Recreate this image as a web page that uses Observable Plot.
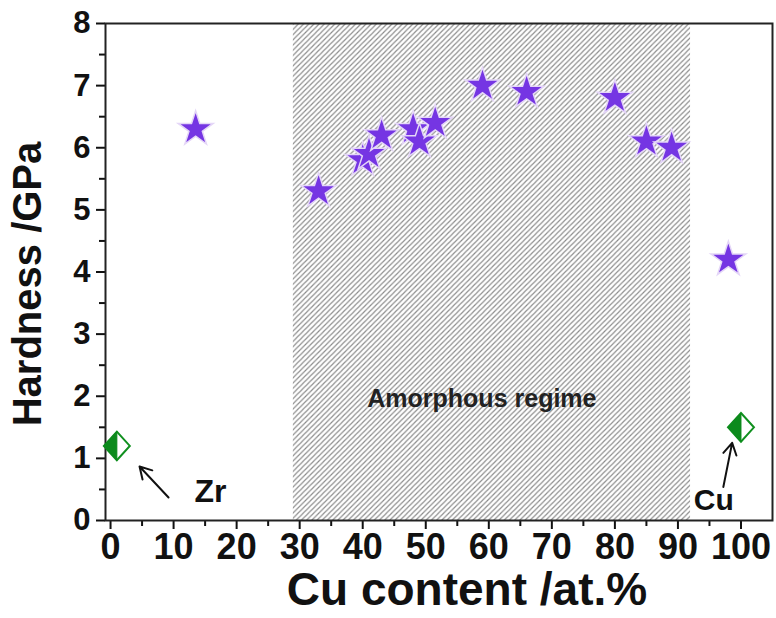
<!DOCTYPE html>
<html>
<head>
<meta charset="utf-8">
<script src="https://cdn.jsdelivr.net/npm/d3@7"></script>
<script src="https://cdn.jsdelivr.net/npm/@observablehq/plot@0.6"></script>
<style>
  html, body { margin: 0; padding: 0; background: white; }
</style>
</head>
<body>
<div id="chart"></div>
<script>
// Film hardness (stars)
const filmCu = [13.5, 33, 40, 41, 43, 48, 49, 51.5, 59, 66, 80, 85, 89, 98];
const filmHardness = [6.3, 5.3, 5.8, 5.9, 6.2, 6.3, 6.1, 6.4, 7.0, 6.9, 6.8, 6.1, 6.0, 4.2];
// Pure metals (half-filled diamonds)
const pureNames = ["Zr", "Cu"];
const pureCu = [1, 100];
const pureHardness = [1.2, 1.5];
// Amorphous regime bounds
const amorphousFrom = 29;
const amorphousTo = 92;
// Ticks
const xTicks = [0, 10, 20, 30, 40, 50, 60, 70, 80, 90, 100];
const xMinor = [5, 15, 25, 35, 45, 55, 65, 75, 85, 95];
const yTicks = [0, 1, 2, 3, 4, 5, 6, 7, 8];
const yMinor = [0.5, 1.5, 2.5, 3.5, 4.5, 5.5, 6.5, 7.5];

const films = filmCu.map((x, i) => ({x, y: filmHardness[i]}));
const pures = pureCu.map((x, i) => ({name: pureNames[i], x, y: pureHardness[i]}));
const regime = [{x1: amorphousFrom, x2: amorphousTo}];

const diamondFull = {draw(ctx, size) {
  const r = Math.sqrt(size) * 0.7;
  ctx.moveTo(0, -r * 1.05); ctx.lineTo(r * 0.95, 0); ctx.lineTo(0, r * 1.05); ctx.lineTo(-r * 0.95, 0); ctx.closePath();
}};
const diamondLeft = {draw(ctx, size) {
  const r = Math.sqrt(size) * 0.7;
  ctx.moveTo(0, -r * 1.05); ctx.lineTo(0, r * 1.05); ctx.lineTo(-r * 0.95, 0); ctx.closePath();
}};

const bold = "bold";
const chart = Plot.plot({
  width: 776,
  height: 618,
  marginLeft: 105,
  marginRight: 4,
  marginTop: 23,
  marginBottom: 98,
  x: {domain: [-0.8, 105]},
  y: {domain: [0, 8]},
  style: {fontFamily: "'Liberation Sans', Arial, sans-serif", background: "white", color: "#111"},
  marks: [
    Plot.rect(regime, {x1: "x1", x2: "x2", y1: 0, y2: 8, fill: "url(#hatch)"}),
    Plot.text(["Amorphous regime"], {x: 58.9, y: 1.95, text: d => d, fontSize: 25, fontWeight: bold, fill: "#222"}),
    Plot.axisX({ticks: xTicks, tickSize: 9, tickPadding: 4, fontSize: 36, fontWeight: bold, label: null, strokeWidth: 2, fill: "#111"}),
    Plot.axisX({ticks: xMinor, tickSize: 6, text: null, label: null, strokeWidth: 2}),
    Plot.axisY({ticks: yTicks, tickSize: 9, tickPadding: 6, fontSize: 31, fontWeight: bold, label: null, strokeWidth: 2, fill: "#111"}),
    Plot.axisY({ticks: yMinor, tickSize: 6, text: null, label: null, strokeWidth: 2}),
    Plot.frame({stroke: "#222", strokeWidth: 2}),
    Plot.text(["Hardness /GPa"], {frameAnchor: "left", textAnchor: "middle", dx: -77, dy: 12, rotate: -90, fontSize: 40, fontWeight: bold, fill: "#111"}),
    Plot.text(["Cu content /at.%"], {frameAnchor: "bottom", dx: 28, dy: 70, lineAnchor: "middle", fontSize: 46, fontWeight: bold, fill: "#111"}),
    Plot.dot(films, {x: "x", y: "y", symbol: "star", r: 11, fill: "#7535e3", stroke: "#e4d6f7", strokeWidth: 1.5}),
    Plot.dot(pures, {x: "x", y: "y", symbol: diamondFull, r: 11, fill: "white", stroke: "#10901f", strokeWidth: 2}),
    Plot.dot(pures, {x: "x", y: "y", symbol: diamondLeft, r: 11, fill: "#0c8a1c", stroke: "#0c8a1c", strokeWidth: 1}),
    Plot.arrow([0], {x1: 9.2, y1: 0.37, x2: 4.6, y2: 0.87, stroke: "#111", strokeWidth: 2, headLength: 10}),
    Plot.arrow([0], {x1: 97.2, y1: 0.54, x2: 98.6, y2: 1.25, stroke: "#111", strokeWidth: 2, headLength: 10}),
    Plot.text(["Zr"], {x: 15.85, y: 0.46, text: d => d, fontSize: 32, fontWeight: bold, fill: "#111"}),
    Plot.text(["Cu"], {x: 95.7, y: 0.32, text: d => d, fontSize: 30, fontWeight: bold, fill: "#111"})
  ]
});

// hatch pattern definition
const ns = "http://www.w3.org/2000/svg";
const defs = document.createElementNS(ns, "defs");
const pat = document.createElementNS(ns, "pattern");
pat.setAttribute("id", "hatch");
pat.setAttribute("patternUnits", "userSpaceOnUse");
pat.setAttribute("width", "5.2");
pat.setAttribute("height", "5.2");
const bg = document.createElementNS(ns, "rect");
bg.setAttribute("width", "5.2"); bg.setAttribute("height", "5.2"); bg.setAttribute("fill", "white");
const p = document.createElementNS(ns, "path");
p.setAttribute("d", "M-1,1 L1,-1 M0,5.2 L5.2,0 M4.2,6.2 L6.2,4.2");
p.setAttribute("stroke", "#8c8c8c");
p.setAttribute("stroke-width", "1.2");
pat.appendChild(bg); pat.appendChild(p);
defs.appendChild(pat);
chart.insertBefore(defs, chart.firstChild);

document.getElementById("chart").appendChild(chart);
</script>
</body>
</html>
